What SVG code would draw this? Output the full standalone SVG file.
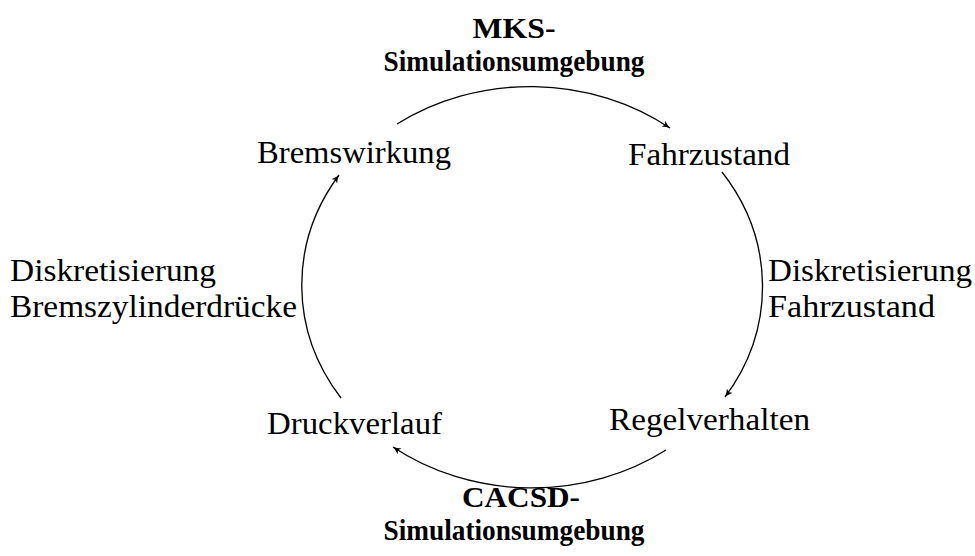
<svg xmlns="http://www.w3.org/2000/svg" width="975" height="556" viewBox="0 0 975 556">
<style>
text{font-family:"Liberation Serif","Times New Roman",serif;font-size:31px;fill:#000}
.b{font-weight:bold;font-size:29px}
.c{fill:none;stroke:#000;stroke-width:1.3}
</style>
<defs>
<marker id="ah" markerWidth="10" markerHeight="10" refX="8" refY="5" orient="auto" markerUnits="userSpaceOnUse">
<path d="M0,1.5 Q4,4 8,5 Q4,6 0,8.5 L2,5 Z" fill="#000"/>
</marker>
</defs>
<rect width="975" height="556" fill="#fff"/>
<g id="connectors">
<path class="c" d="M397,124 A230 202 0 0 1 670,128" marker-end="url(#ah)"/>
<path class="c" d="M722,172 A230 202 0 0 1 725,397" marker-end="url(#ah)"/>
<path class="c" d="M666,450 A230 202 0 0 1 393,447" marker-end="url(#ah)"/>
<path class="c" d="M341,398 A230 202 0 0 1 339,175" marker-end="url(#ah)"/>
</g>
<g id="title-top"><text class="b" x="514" y="38" text-anchor="middle" textLength="83" lengthAdjust="spacingAndGlyphs">MKS-</text><text class="b" x="514" y="71" text-anchor="middle" textLength="261" lengthAdjust="spacingAndGlyphs">Simulationsumgebung</text></g>
<g id="bremswirkung"><text x="257" y="163" textLength="194" lengthAdjust="spacingAndGlyphs">Bremswirkung</text></g>
<g id="fahrzustand"><text x="628" y="165" textLength="162" lengthAdjust="spacingAndGlyphs">Fahrzustand</text></g>
<g id="label-right"><text x="768" y="281" textLength="204" lengthAdjust="spacingAndGlyphs">Diskretisierung</text><text x="768" y="317" textLength="167" lengthAdjust="spacingAndGlyphs">Fahrzustand</text></g>
<g id="label-left"><text x="10" y="281" textLength="206" lengthAdjust="spacingAndGlyphs">Diskretisierung</text><text x="10" y="317" textLength="287" lengthAdjust="spacingAndGlyphs">Bremszylinderdrücke</text></g>
<g id="regelverhalten"><text x="609" y="430" textLength="201" lengthAdjust="spacingAndGlyphs">Regelverhalten</text></g>
<g id="druckverlauf"><text x="267" y="434" textLength="175" lengthAdjust="spacingAndGlyphs">Druckverlauf</text></g>
<g id="title-bottom"><text class="b" x="521" y="507" text-anchor="middle" textLength="118" lengthAdjust="spacingAndGlyphs">CACSD-</text><text class="b" x="514" y="540" text-anchor="middle" textLength="261" lengthAdjust="spacingAndGlyphs">Simulationsumgebung</text></g>
</svg>
